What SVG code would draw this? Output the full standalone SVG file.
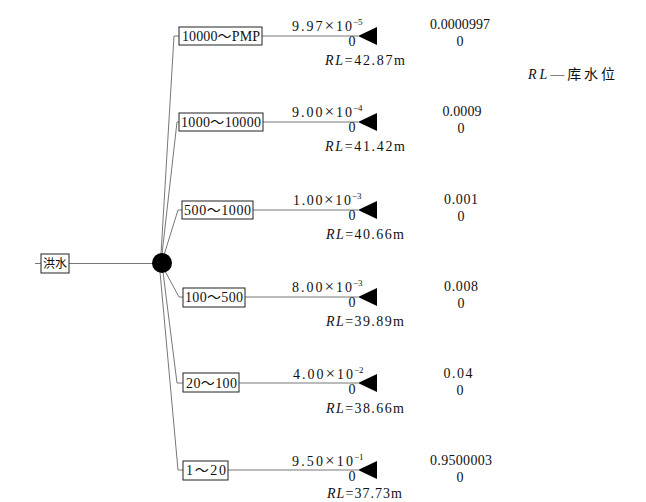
<svg xmlns="http://www.w3.org/2000/svg" width="646" height="502" viewBox="0 0 646 502">
<style>
text{font-family:"Liberation Serif","Noto Sans CJK SC",serif;font-size:14px;fill:#111}
.box{fill:#fff;stroke:#222;stroke-width:1}
.ln{fill:none;stroke:#777;stroke-width:1}
.sup{font-size:9px}
.x{font-size:17px}
.mid{text-anchor:middle}
.it{font-style:italic}
.tri{fill:#000}
</style>
<rect width="646" height="502" fill="#fff"/>
<g id="connectors">
<line class="ln" x1="35" y1="263.5" x2="41" y2="263.5"/>
<line class="ln" x1="69" y1="263.5" x2="153" y2="263.5"/>
<polyline class="ln" points="161,254 174,36 179,36"/>
<polyline class="ln" points="162,254 177,122 179,122"/>
<polyline class="ln" points="164,255 178,210 182,210"/>
<polyline class="ln" points="165,271 179,297 183,297"/>
<polyline class="ln" points="163,272 177,383 183,383"/>
<polyline class="ln" points="160,272 178,470 183,470"/>
<line class="ln" x1="262" y1="36" x2="358" y2="36"/>
<line class="ln" x1="263" y1="122" x2="358" y2="122"/>
<line class="ln" x1="253" y1="210" x2="358" y2="210"/>
<line class="ln" x1="245" y1="297" x2="358" y2="297"/>
<line class="ln" x1="239" y1="383" x2="358" y2="383"/>
<line class="ln" x1="228" y1="470" x2="358" y2="470"/>
</g>
<g id="flood">
<rect class="box" x="41" y="254" width="28" height="19"/>
<text x="55" y="268" class="mid" style="font-size:12px">洪水</text>
</g>
<g id="chance">
<circle cx="162" cy="263" r="10" fill="#000"/>
</g>
<g id="b1">
<rect class="box" x="179" y="27" width="83" height="18"/>
<text x="182" y="41" textLength="78">10000～PMP</text>
</g>
<g id="b2">
<rect class="box" x="179" y="113" width="84" height="18"/>
<text x="181" y="127" textLength="80">1000～10000</text>
</g>
<g id="b3">
<rect class="box" x="182" y="201" width="71" height="18"/>
<text x="184" y="215" textLength="67">500～1000</text>
</g>
<g id="b4">
<rect class="box" x="183" y="288" width="62" height="19"/>
<text x="185" y="302" textLength="58">100～500</text>
</g>
<g id="b5">
<rect class="box" x="183" y="373" width="56" height="19"/>
<text x="186" y="388" textLength="51">20～100</text>
</g>
<g id="b6">
<rect class="box" x="183" y="461" width="45" height="19"/>
<text x="186" y="475" textLength="40">1～20</text>
</g>
<g id="t1">
<polygon class="tri" points="358,36 377,27 377,45"/>
<text x="292" y="31" textLength="60">9.97<tspan class="x">×</tspan>10</text><text x="353" y="25" class="sup">−5</text>
<text x="352" y="46" class="mid">0</text>
<text x="325" y="65" textLength="80"><tspan class="it">RL</tspan>=42.87m</text>
<text x="460" y="29" class="mid" textLength="60">0.0000997</text>
<text x="460" y="46" class="mid">0</text>
</g>
<g id="t2">
<polygon class="tri" points="358,122 377,113 377,131"/>
<text x="292" y="117" textLength="60">9.00<tspan class="x">×</tspan>10</text><text x="353" y="111" class="sup">−4</text>
<text x="352" y="132" class="mid">0</text>
<text x="325" y="151" textLength="80"><tspan class="it">RL</tspan>=41.42m</text>
<text x="462" y="116" class="mid" textLength="39">0.0009</text>
<text x="461" y="133" class="mid">0</text>
</g>
<g id="t3">
<polygon class="tri" points="358,210 377,201 377,219"/>
<text x="293" y="205" textLength="58">1.00<tspan class="x">×</tspan>10</text><text x="352" y="199" class="sup">−3</text>
<text x="352" y="220" class="mid">0</text>
<text x="326" y="239" textLength="78"><tspan class="it">RL</tspan>=40.66m</text>
<text x="461" y="204" class="mid" textLength="34">0.001</text>
<text x="461" y="221" class="mid">0</text>
</g>
<g id="t4">
<polygon class="tri" points="358,297 377,288 377,306"/>
<text x="292" y="292" textLength="60">8.00<tspan class="x">×</tspan>10</text><text x="353" y="286" class="sup">−3</text>
<text x="352" y="307" class="mid">0</text>
<text x="326" y="326" textLength="78"><tspan class="it">RL</tspan>=39.89m</text>
<text x="461" y="291" class="mid" textLength="34">0.008</text>
<text x="461" y="308" class="mid">0</text>
</g>
<g id="t5">
<polygon class="tri" points="358,383 377,374 377,392"/>
<text x="293" y="379" textLength="60">4.00<tspan class="x">×</tspan>10</text><text x="354" y="373" class="sup">−2</text>
<text x="352" y="394" class="mid">0</text>
<text x="326" y="413" textLength="78"><tspan class="it">RL</tspan>=38.66m</text>
<text x="458" y="378" class="mid" textLength="29">0.04</text>
<text x="460" y="395" class="mid">0</text>
</g>
<g id="t6">
<polygon class="tri" points="358,470 377,461 377,479"/>
<text x="292" y="466" textLength="61">9.50<tspan class="x">×</tspan>10</text><text x="354" y="460" class="sup">−1</text>
<text x="352" y="481" class="mid">0</text>
<text x="327" y="498" textLength="75"><tspan class="it">RL</tspan>=37.73m</text>
<text x="461" y="465" class="mid" textLength="62">0.9500003</text>
<text x="460" y="482" class="mid">0</text>
</g>
<g id="legend">
<text x="528" y="79" textLength="87"><tspan class="it">RL</tspan>—库水位</text>
</g>
</svg>
